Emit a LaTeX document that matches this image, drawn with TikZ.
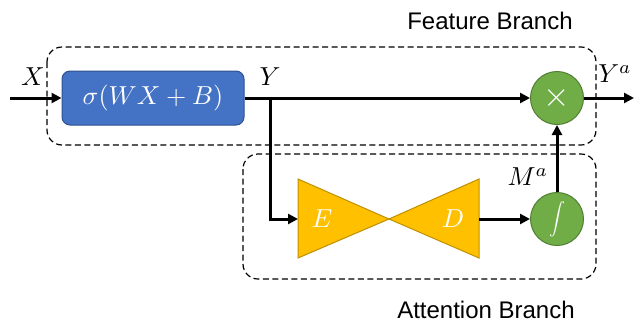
\documentclass[tikz,border=0pt]{standalone}
\usepackage{graphicx}
\usepackage{fontspec}
\setsansfont{Liberation Sans}
\usetikzlibrary{arrows.meta}
\definecolor{boxblue}{HTML}{4472C4}
\definecolor{boxblueb}{HTML}{2F528F}
\definecolor{opgreen}{HTML}{70AD47}
\definecolor{opgreenb}{HTML}{507E32}
\definecolor{tri}{HTML}{FFC000}
\definecolor{trib}{HTML}{BF9000}
\newcommand{\mysym}[1]{\scalebox{2.6}{$#1$}}
\tikzset{
  conn/.style={line width=3pt,-{Triangle[length=10pt,width=10pt]}},
  branch/.style={draw,line width=1.2pt,dash pattern=on 6pt off 3.5pt,rounded corners=15pt},
  opnode/.style={circle,fill=opgreen,draw=opgreenb,line width=1pt,minimum size=53pt,inner sep=0pt,text=white},
  mlabel/.style={inner sep=0pt},
  title/.style={font=\sffamily\fontsize{24}{28}\selectfont,anchor=base,inner sep=0pt}
}
\begin{document}
\begin{tikzpicture}[x=1pt,y=-1pt]
\useasboundingbox (0,0) rectangle (638,322);
% dashed branch frames
\draw[branch] (47,47) rectangle (596,145);
\draw[branch] (243,154) rectangle (596,279);
% blocks
\node[fill=boxblue,draw=boxblueb,line width=1pt,rounded corners=8pt,minimum width=182pt,minimum height=54pt,inner sep=0pt,text=white] (fc) at (153,98) {\mysym{\sigma(WX+B)}};
\node[opnode] (mult) at (557,98) {\scalebox{3.4}{$\times$}};
\node[opnode] (integ) at (557,219) {\scalebox{1.6}{$\displaystyle\int$}};
% encoder / decoder triangles
\draw[fill=tri,draw=trib,line width=1pt] (298,179) -- (389,219) -- (298,258) -- cycle;
\draw[fill=tri,draw=trib,line width=1pt] (479,179) -- (389,219) -- (479,258) -- cycle;
\node[mlabel,text=white] (E) at (322,219) {\mysym{E}};
\node[mlabel,text=white] (D) at (453,219) {\mysym{D}};
\coordinate (Ein) at (298,219);
\coordinate (Dout) at (479,219);
\coordinate (in) at (10,98);
\coordinate (out) at (634,98);
\coordinate (ybr) at (270,98);
% connectors
\draw[conn] (in) -- (fc.west);
\draw[conn] (fc.east) -- (mult.west);
\draw[conn] (ybr) |- (Ein);
\draw[conn] (Dout) -- (integ.west);
\draw[conn] (integ.north) -- (mult.south);
\draw[conn] (mult.east) -- (out);
% labels
\node[mlabel] (lx) at (33,77) {\mysym{X}};
\node[mlabel] (ly) at (270,77) {\mysym{Y}};
\node[mlabel] (lya) at (615,74) {\mysym{Y^a}};
\node[mlabel] (lma) at (528,177) {\mysym{M^a}};
\node[title] (tf) at (490,29) {Feature Branch};
\node[title] (ta) at (486,318) {Attention Branch};
\end{tikzpicture}
\end{document}
